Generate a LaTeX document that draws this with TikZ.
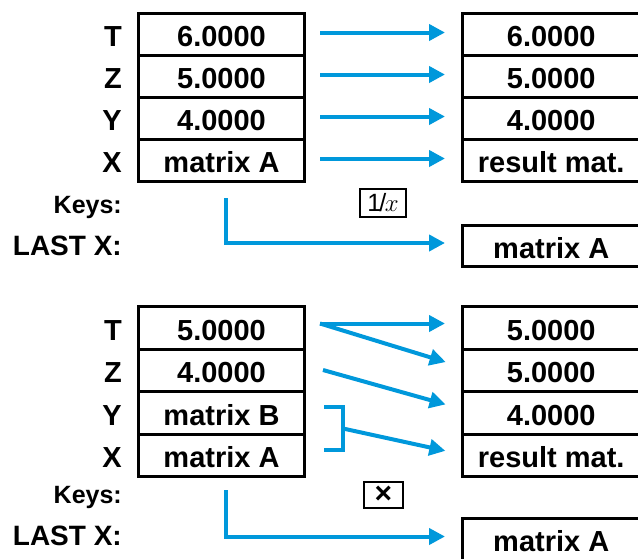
\documentclass[tikz,border=0pt]{standalone}
\usepackage{fontspec}
\setmainfont{Liberation Sans}
\usetikzlibrary{arrows.meta,calc}
\definecolor{arrowblue}{RGB}{0,152,219}
\begin{document}
\begin{tikzpicture}[x=1pt,y=-1pt,
  reg/.style={draw, line width=3pt, inner sep=0pt, minimum height=42pt,
    font=\fontsize{29}{29}\bfseries\selectfont, text height=24.5pt, text depth=0pt},
  lreg/.style={reg, minimum width=166pt},
  rreg/.style={reg, minimum width=177.5pt},
  rowlab/.style={inner sep=0pt, anchor=east, font=\fontsize{29}{29}\bfseries\selectfont,
    text height=24.5pt, text depth=0pt},
  keyslab/.style={inner sep=0pt, anchor=base east, font=\fontsize{25}{25}\bfseries\selectfont},
  lastlab/.style={inner sep=0pt, anchor=base east, font=\fontsize{28}{28}\bfseries\selectfont},
  keybox/.style={draw, line width=1.2pt, inner sep=0pt},
  arr/.style={draw=arrowblue, line width=4pt, -{Triangle[length=16pt,width=16pt]}},
  seg/.style={draw=arrowblue, line width=4pt},
]
\useasboundingbox (0,0) rectangle (638,558);
\clip (0,0) rectangle (638,558);

% ---------- top part ----------
\node[lreg] (L1) at (221.5,34.5) {6.0000};
\node[lreg] (L2) at (221.5,76.5) {5.0000};
\node[lreg] (L3) at (221.5,118.5) {4.0000};
\node[lreg] (L4) at (221.5,160.5) {matrix A};

\node[rreg] (R1) at (551.25,34.5) {6.0000};
\node[rreg] (R2) at (551.25,76.5) {5.0000};
\node[rreg] (R3) at (551.25,118.5) {4.0000};
\node[rreg] (R4) at (551.25,160.5) {result mat.};

\node[rowlab] (lT) at ([xshift=-15pt]L1.west) {T};
\node[rowlab] (lZ) at ([xshift=-15pt]L2.west) {Z};
\node[rowlab] (lY) at ([xshift=-15pt]L3.west) {Y};
\node[rowlab] (lX) at ([xshift=-15pt]L4.west) {X};

\node[keyslab] (keys1) at (122,213) {Keys:};
\node[lastlab] (last1) at (122,255) {LAST X:};

\node[keybox, minimum width=46pt, minimum height=28pt] (k1) at (383,203)
  {\fontsize{25}{25}\selectfont 1\kern-2pt/\kern-1.5pt$x$};

\node[rreg, minimum height=41pt] (LA1) at (551.25,246) {matrix A};

\foreach \i in {1,...,4}{
  \draw[arr, shorten <=14pt, shorten >=16pt] ([yshift=2pt]L\i.east) -- ([yshift=2pt]R\i.west);
}
\coordinate (c1) at (226,198);
\draw[arr, shorten >=16pt] (c1) |- ([yshift=3pt]LA1.west);

% ---------- bottom part ----------
\node[lreg, minimum height=42.5pt] (M1) at (221.5,327.75) {5.0000};
\node[lreg, minimum height=42.5pt] (M2) at (221.5,370.25) {4.0000};
\node[lreg, minimum height=42.5pt] (M3) at (221.5,412.75) {matrix B};
\node[lreg, minimum height=42.5pt] (M4) at (221.5,455.25) {matrix A};

\node[rreg, minimum height=42.5pt] (S1) at (551.25,327.75) {5.0000};
\node[rreg, minimum height=42.5pt] (S2) at (551.25,370.25) {5.0000};
\node[rreg, minimum height=42.5pt] (S3) at (551.25,412.75) {4.0000};
\node[rreg, minimum height=42.5pt] (S4) at (551.25,455.25) {result mat.};

\node[rowlab] (mT) at ([xshift=-15pt]M1.west) {T};
\node[rowlab] (mZ) at ([xshift=-15pt]M2.west) {Z};
\node[rowlab] (mY) at ([xshift=-15pt]M3.west) {Y};
\node[rowlab] (mX) at ([xshift=-15pt]M4.west) {X};

\node[keyslab] (keys2) at (122,503) {Keys:};
\node[lastlab] (last2) at (122,545) {LAST X:};

\node[keybox, minimum width=39pt, minimum height=26pt] (k2) at (383.5,495)
  {\fontsize{30}{30}\bfseries\selectfont ×};

\node[rreg] (LA2) at (551.25,539) {matrix A};

% arrows
\coordinate (t0) at (320,323.5);
\draw[arr, shorten >=16pt] (t0) -- ([yshift=4.25pt]S1.west);
\draw[arr, shorten >=16pt] (t0) -- ([yshift=3.5pt]S2.west);
\coordinate (z0) at (323,370);
\draw[arr, shorten >=16pt] (z0) -- ([yshift=4pt]S3.west);
\coordinate (bt) at (324,407);
\coordinate (bb) at (324,450);
\coordinate (bm) at (343,428.5);
\draw[seg] (bt) -- (343,407) -- (343,450) -- (bb);
\draw[arr, shorten >=16pt] (bm) -- ([yshift=1pt]S4.west);

\coordinate (c2) at (226,490);
\draw[arr, shorten >=16pt] (c2) |- ([yshift=2.5pt]LA2.west);
\end{tikzpicture}
\end{document}
